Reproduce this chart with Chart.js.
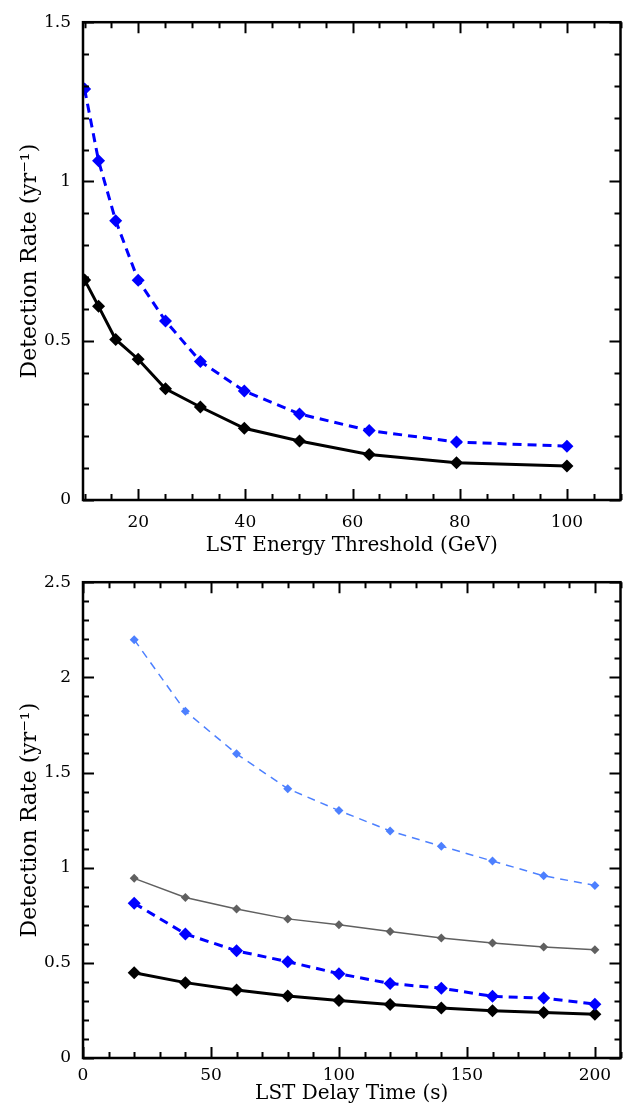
<!DOCTYPE html>
<html>
<head>
<meta charset="utf-8">
<script src="https://cdn.jsdelivr.net/npm/chart.js@4"></script>
<style>
  html, body { margin: 0; padding: 0; background: #fff; }
  .box { position: absolute; left: 0; width: 627px; }
  #topBox { top: 0; height: 560px; }
  #bottomBox { top: 560px; height: 546px; }
</style>
</head>
<body>
<div class="box" id="topBox"><canvas id="thresholdChart"></canvas></div>
<div class="box" id="bottomBox"><canvas id="delayChart"></canvas></div>
<script>
// Energy threshold scan (GeV)
const thresholds = [10, 12.6, 15.8, 20, 25.1, 31.6, 39.8, 50.1, 63.1, 79.4, 100];
const thresholdRateBlue = [1.29, 1.065, 0.877, 0.69, 0.562, 0.435, 0.342, 0.27, 0.218, 0.182, 0.169];
const thresholdRateBlack = [0.691, 0.608, 0.504, 0.442, 0.349, 0.292, 0.225, 0.185, 0.143, 0.117, 0.107];

// Delay time scan (s)
const delays = [20, 40, 60, 80, 100, 120, 140, 160, 180, 200];
const delayRateLightBlue = [2.198, 1.822, 1.598, 1.415, 1.3, 1.193, 1.113, 1.035, 0.957, 0.907];
const delayRateGrey = [0.944, 0.843, 0.783, 0.731, 0.7, 0.665, 0.631, 0.604, 0.583, 0.569];
const delayRateBlue = [0.813, 0.652, 0.563, 0.506, 0.443, 0.391, 0.367, 0.324, 0.315, 0.283];
const delayRateBlack = [0.448, 0.396, 0.357, 0.326, 0.302, 0.281, 0.263, 0.248, 0.239, 0.23];

const thresholdTicks = [20, 40, 60, 80, 100];
const delayTicks = [0, 50, 100, 150, 200];
const rateTicksTop = [0, 0.5, 1, 1.5];
const rateTicksBottom = [0, 0.5, 1, 1.5, 2, 2.5];

const FONT = "'DejaVu Serif', 'Liberation Serif', serif";

function toPoints(xs, ys) {
    return xs.map((x, i) => ({ x: x, y: ys[i] }));
}

// Frame around the plot plus inward ticks on all four sides
const frameTicks = {
    id: 'frameTicks',
    afterDraw(chart, args, opts) {
        const { ctx, chartArea: a, scales } = chart;
        const xs = scales.x, ys = scales.y;
        ctx.save();
        ctx.strokeStyle = '#000';
        ctx.lineWidth = 2;
        ctx.beginPath();
        const tick = (step, major, scale, horiz) => {
            const start = Math.ceil((scale.min - 1e-9) / step) * step;
            for (let v = start; v <= scale.max + 1e-9; v += step) {
                const isMajor = Math.abs(v / major - Math.round(v / major)) < 1e-6;
                const len = isMajor ? 11 : 6;
                const p = Math.round(scale.getPixelForValue(v)) + 0.5;
                if (horiz) {
                    ctx.moveTo(p, a.bottom); ctx.lineTo(p, a.bottom - len);
                    ctx.moveTo(p, a.top); ctx.lineTo(p, a.top + len);
                } else {
                    ctx.moveTo(a.left, p); ctx.lineTo(a.left + len, p);
                    ctx.moveTo(a.right, p); ctx.lineTo(a.right - len, p);
                }
            }
        };
        tick(opts.xMinor, opts.xMajor, xs, true);
        tick(opts.yMinor, opts.yMajor, ys, false);
        ctx.stroke();
        ctx.lineWidth = 2.5;
        ctx.strokeRect(a.left, a.top, a.right - a.left, a.bottom - a.top);
        ctx.restore();
    }
};

function fixedTicks(values) {
    return function (scale) {
        scale.ticks = values.map(v => ({ value: v }));
    };
}

function makeOptions(cfg) {
    return {
        responsive: true,
        maintainAspectRatio: false,
        animation: false,
        layout: { padding: cfg.padding },
        plugins: {
            legend: { display: false },
            tooltip: { enabled: false },
            frameTicks: cfg.frame
        },
        scales: {
            x: {
                type: 'linear',
                min: cfg.xMin,
                max: cfg.xMax,
                afterBuildTicks: fixedTicks(cfg.xTicks),
                afterFit(scale) { scale.height = cfg.xHeight; },
                grid: { display: false, drawTicks: false },
                border: { display: false },
                ticks: {
                    color: '#000',
                    padding: cfg.xTickPad,
                    maxRotation: 0,
                    font: { family: FONT, size: 17 },
                    callback: v => String(v)
                },
                title: {
                    display: true,
                    text: cfg.xTitle,
                    color: '#000',
                    font: { family: FONT, size: 20 },
                    padding: { top: 0, bottom: cfg.xTitlePad }
                }
            },
            y: {
                type: 'linear',
                min: 0,
                max: cfg.yMax,
                afterBuildTicks: fixedTicks(cfg.yTicks),
                afterFit(scale) { scale.width = 83; },
                grid: { display: false, drawTicks: false },
                border: { display: false },
                ticks: {
                    color: '#000',
                    padding: 12,
                    font: { family: FONT, size: 17 },
                    callback: v => String(v)
                },
                title: {
                    display: true,
                    text: 'Detection Rate (yr\u207B\u00B9)',
                    color: '#000',
                    font: { family: FONT, size: 22 },
                    padding: { top: 17, bottom: 0 }
                }
            }
        }
    };
}

const thickLine = (label, color, dashed, data) => ({
    label: label,
    data: data,
    borderColor: color,
    backgroundColor: color,
    borderWidth: 3,
    borderDash: dashed ? [9, 6] : [],
    pointStyle: 'rectRot',
    pointRadius: 6.5,
    pointBorderWidth: 0,
    tension: 0
});

const thinLine = (label, color, dashed, data) => ({
    label: label,
    data: data,
    borderColor: color,
    backgroundColor: color,
    borderWidth: 1.5,
    borderDash: dashed ? [8, 6] : [],
    pointStyle: 'rectRot',
    pointRadius: 4.5,
    pointBorderWidth: 0,
    tension: 0
});

new Chart(document.getElementById('thresholdChart'), {
    type: 'line',
    data: {
        datasets: [
            thickLine('Rate (blue)', '#0000ff', true, toPoints(thresholds, thresholdRateBlue)),
            thickLine('Rate (black)', '#000000', false, toPoints(thresholds, thresholdRateBlack))
        ]
    },
    options: makeOptions({
        padding: { top: 17, right: 6, bottom: 0, left: 0 },
        xMin: 9.7, xMax: 110, xTicks: thresholdTicks, xHeight: 60,
        xTickPad: 12,
        xTitle: 'LST Energy Threshold (GeV)', xTitlePad: 2,
        yMax: 1.5, yTicks: rateTicksTop,
        frame: { xMinor: 5, xMajor: 20, yMinor: 0.1, yMajor: 0.5 }
    }),
    plugins: [frameTicks]
});

new Chart(document.getElementById('delayChart'), {
    type: 'line',
    data: {
        datasets: [
            thinLine('Rate (light blue)', '#4d80ff', true, toPoints(delays, delayRateLightBlue)),
            thinLine('Rate (grey)', '#606060', false, toPoints(delays, delayRateGrey)),
            thickLine('Rate (blue)', '#0000ff', true, toPoints(delays, delayRateBlue)),
            thickLine('Rate (black)', '#000000', false, toPoints(delays, delayRateBlack))
        ]
    },
    options: makeOptions({
        padding: { top: 12, right: 5, bottom: 0, left: 0 },
        xMin: 0, xMax: 210, xTicks: delayTicks, xHeight: 48,
        xTickPad: 7,
        xTitle: 'LST Delay Time (s)', xTitlePad: 0,
        yMax: 2.5, yTicks: rateTicksBottom,
        frame: { xMinor: 10, xMajor: 50, yMinor: 0.1, yMajor: 0.5 }
    }),
    plugins: [frameTicks]
});
</script>
</body>
</html>
